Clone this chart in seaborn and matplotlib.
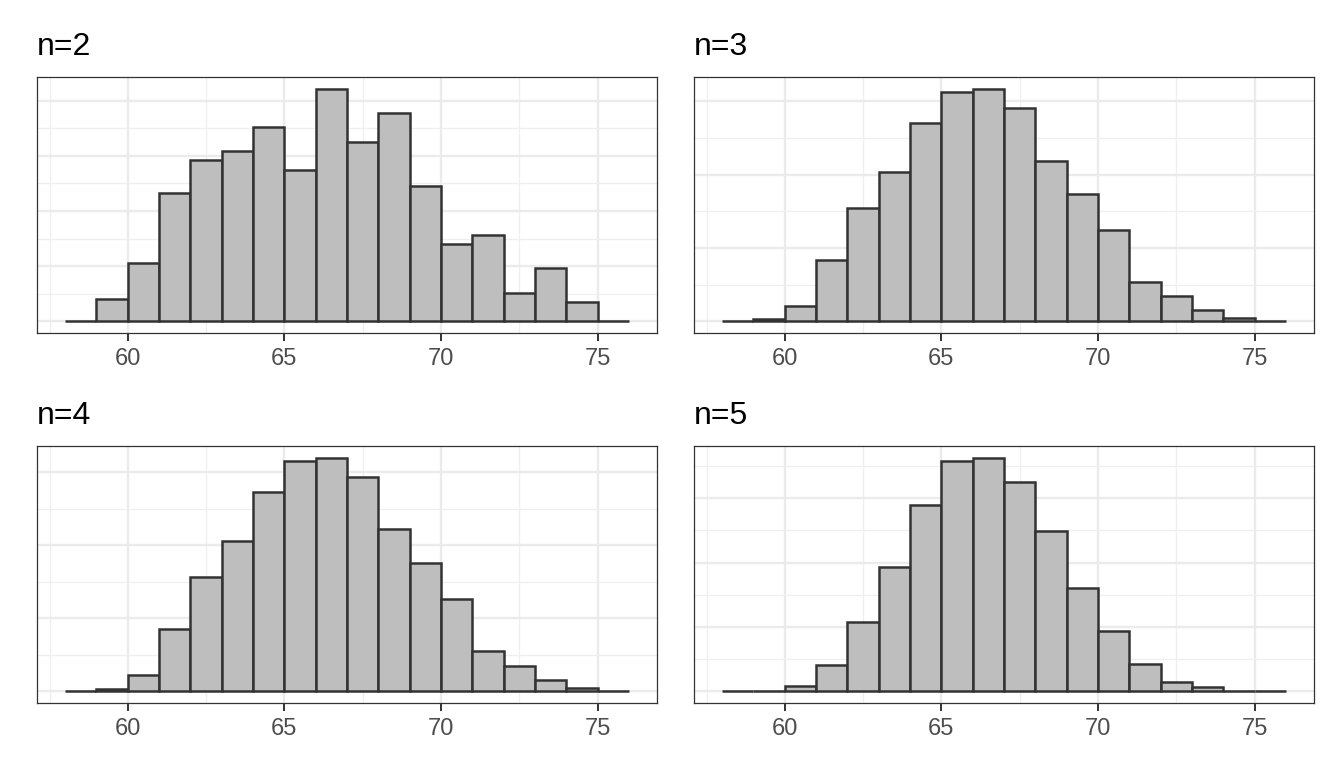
import numpy as np
import pandas as pd
import matplotlib
matplotlib.use("Agg")
import matplotlib.pyplot as plt
from matplotlib.ticker import MultipleLocator
import seaborn as sns

# bins of width 1 from 58 to 76; bar heights (arbitrary count units)
BIN_START, BIN_END = 58, 76
TITLES = ["n=2", "n=3", "n=4", "n=5"]

heights_n2 = [0, 4.0, 10.5, 23.3, 29.3, 30.9, 35.3, 27.4, 42.2, 32.5, 37.7, 24.5, 14.1, 15.7, 5.2, 9.6, 3.6, 0]
heights_n3 = [0, 0.3, 2.1, 8.4, 15.4, 20.3, 27.0, 31.3, 31.7, 29.1, 21.9, 17.3, 12.5, 5.4, 3.4, 1.5, 0.4, 0]
heights_n4 = [0, 0.3, 2.2, 8.6, 15.6, 20.6, 27.3, 31.6, 32.0, 29.4, 22.3, 17.6, 12.7, 5.5, 3.5, 1.6, 0.5, 0]
heights_n5 = [0, 0.0, 0.8, 4.1, 10.8, 19.3, 28.9, 35.8, 36.3, 32.5, 24.9, 16.0, 9.3, 4.3, 1.5, 0.6, 0.1, 0]

XTICKS = [60, 65, 70, 75]

sns.set_theme(style="white")
plt.rcParams['font.family'] = ['Liberation Sans', 'DejaVu Sans']

W, H = 1344, 768
fig = plt.figure(figsize=(W / 100, H / 100), dpi=100)

# panel boxes in pixels: left, top, right, bottom
boxes = [(37, 77, 657, 333), (694, 77, 1314, 333),
         (37, 446, 657, 703), (694, 446, 1314, 703)]
all_heights = [heights_n2, heights_n3, heights_n4, heights_n5]

for title, (l, t, r, b), hts in zip(TITLES, boxes, all_heights):
    ax = fig.add_axes([l / W, 1 - b / H, (r - l) / W, (b - t) / H])
    centers = np.arange(BIN_START, BIN_END) + 0.5
    df = pd.DataFrame({"x": centers, "w": hts})
    sns.histplot(data=df, x="x", weights="w", binwidth=1,
                 binrange=(BIN_START, BIN_END), ax=ax,
                 color="#BEBEBE", edgecolor="#333333", linewidth=1.8, alpha=1)
    top = max(hts)
    ax.set_xlim(57.1, 76.9)
    ax.set_ylim(-0.05 * top, 1.05 * top)
    ax.set_xticks(XTICKS)
    ax.xaxis.set_minor_locator(MultipleLocator(2.5))
    ax.yaxis.set_major_locator(MultipleLocator(10))
    ax.yaxis.set_minor_locator(MultipleLocator(5))
    ax.set_axisbelow(True)
    ax.grid(which="major", color="#EBEBEB", linewidth=1.7)
    ax.grid(which="minor", color="#EFEFEF", linewidth=0.9)
    ax.tick_params(axis="y", which="both", length=0, labelleft=False)
    ax.tick_params(axis="x", which="major", length=6, width=1.4, color="#333333",
                   labelsize=17, labelcolor="#4D4D4D", pad=4.5, bottom=True)
    ax.tick_params(axis="x", which="minor", length=0)
    ax.set_xlabel("")
    ax.set_ylabel("")
    for s in ax.spines.values():
        s.set_color("#333333")
        s.set_linewidth(0.9)
    fig.text(l / W, 1 - (t - 22) / H, title, fontsize=23, color="black",
             ha="left", va="baseline")

fig.savefig("out.png", dpi=100)
